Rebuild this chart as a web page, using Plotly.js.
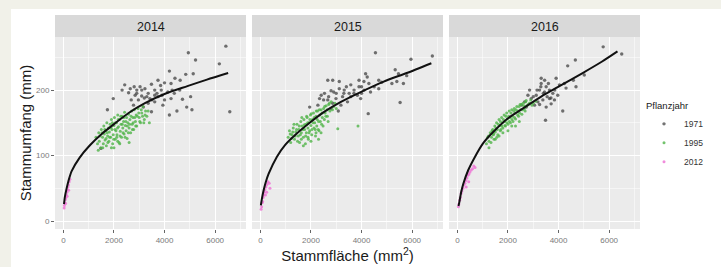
<!DOCTYPE html>
<html>
<head>
<meta charset="utf-8">
<script src="https://cdn.plot.ly/plotly-3.0.1.min.js"></script>
<style>html,body{margin:0;padding:0;background:#fff;}#chart{width:721px;height:267px;}</style>
</head>
<body>
<div id="chart"></div>
<script>
// ---------- DATA ----------
const years = ['2014', '2015', '2016'];
const groups = ['1971', '1995', '2012'];
const xTicks = [0, 2000, 4000, 6000];
const yTicks = [0, 100, 200];

// 2014 [Stammfläche, Stammumfang]
const p2014_1971 = [[6424,267],[4941,257],[5225,246],[6166,240],[4193,229],[4838,224],[5134,225],[4412,218],[4618,215],[3741,215],[3999,211],[4257,210],[3483,209],[3032,205],[3225,202],[2425,208],[2645,202],[2903,200],[3612,200],[3870,200],[4128,197],[4386,195],[3354,195],[3612,192],[3096,191],[2838,192],[2580,196],[5031,190],[4709,186],[4257,187],[3999,185],[3612,182],[3354,180],[2967,185],[3161,174],[2774,177],[1974,187],[3935,177],[4876,174],[5083,170],[4489,168],[4193,162],[6579,167],[3483,167],[1742,170],[1484,111],[3844,207],[3419,187],[3741,190],[2683,185],[2322,200],[3100,200],[3300,190],[3700,195],[3500,185],[2900,195],[3900,192],[4300,200],[2800,205],[3200,188],[4600,200]];
const p2014_1995 = [[1290,128],[1350,118],[1400,135],[1420,122],[1480,112],[1500,140],[1550,128],[1580,118],[1600,145],[1620,133],[1650,124],[1680,138],[1700,115],[1720,150],[1750,130],[1780,142],[1800,122],[1820,136],[1850,148],[1870,128],[1900,155],[1920,140],[1950,118],[1970,132],[2000,146],[2020,158],[2050,125],[2080,138],[2100,150],[2120,132],[2150,162],[2180,144],[2200,120],[2220,155],[2250,137],[2280,148],[2300,128],[2320,160],[2350,142],[2380,152],[2400,133],[2420,166],[2450,146],[2480,138],[2500,158],[2520,126],[2550,150],[2580,163],[2600,142],[2630,155],[2660,135],[2700,168],[2720,148],[2750,158],[2780,140],[2800,170],[2850,152],[2880,162],[2900,145],[2950,172],[3000,158],[3050,150],[3100,165],[3150,175],[3200,155],[3250,168],[3300,160],[3400,150],[1380,108],[2000,112],[2600,120],[1450,130],[1530,135],[1560,112],[1640,140],[1690,126],[1730,135],[1760,120],[1830,128],[1880,143],[1940,150],[1990,125],[2040,140],[2060,150],[2110,128],[2140,142],[2170,155],[2240,130],[2270,160],[2330,148],[2360,135],[2390,158],[2440,128],[2470,152],[2530,145],[2570,135],[2620,148],[2680,160],[2730,140],[2760,150],[2820,158],[2860,145],[2920,160],[2980,165],[3020,152],[3080,170],[3130,160],[3180,150],[3230,162],[3350,168],[2230,118],[1900,112],[2150,122]];
const p2014_2012 = [[30,20],[40,24],[60,28],[80,33],[100,36],[120,40],[140,44],[160,48],[180,52],[200,55],[230,60],[260,64],[90,27],[150,38],[210,47]];
const fit2014 = [[26,26],[60,37],[129,50],[200,61],[323,76],[645,97],[1032,115],[1548,134],[2000,148],[2580,165],[3225,180],[4000,194],[4902,206],[5676,216],[6514,226]];

// 2015
const p2015_1971 = [[4550,257],[5954,247],[6799,252],[5330,231],[5460,225],[5785,222],[4160,225],[4225,220],[3900,215],[4095,213],[4290,210],[4680,215],[4680,202],[5200,210],[5395,213],[5655,210],[2665,215],[2860,215],[3120,213],[2795,199],[3120,202],[3315,200],[3510,195],[3705,200],[3835,192],[3575,190],[3250,190],[2990,187],[2665,185],[2405,192],[2535,195],[2340,187],[2860,180],[3185,177],[3081,168],[2795,172],[1950,174],[2275,177],[5525,181],[4264,164],[3445,182],[3965,187],[4355,197],[2900,197],[3575,208],[4000,205],[4100,200],[3300,195],[3700,195],[3900,205],[3400,205],[2500,185],[2700,190],[4000,195],[3000,195],[4500,205],[4800,212]];
const p2015_1995 = [[1100,128],[1150,138],[1200,120],[1250,132],[1300,142],[1350,125],[1400,136],[1450,148],[1500,130],[1520,140],[1550,120],[1600,152],[1620,135],[1650,145],[1700,128],[1720,155],[1750,140],[1780,118],[1800,148],[1820,135],[1850,158],[1880,142],[1900,125],[1920,150],[1950,138],[1980,162],[2000,146],[2030,132],[2060,155],[2100,165],[2120,142],[2150,150],[2180,130],[2200,160],[2230,145],[2260,168],[2300,152],[2320,138],[2350,162],[2400,170],[2420,148],[2450,158],[2500,172],[2530,155],[2560,165],[2600,176],[2650,160],[2700,178],[2750,168],[2800,182],[2900,175],[3000,172],[3060,141],[3860,145],[1700,115],[2000,122],[2300,125],[2400,135],[1180,133],[1230,126],[1280,136],[1330,148],[1380,130],[1430,140],[1470,122],[1540,145],[1580,132],[1640,158],[1680,140],[1740,147],[1790,130],[1830,160],[1870,150],[1930,135],[1960,155],[2010,164],[2040,140],[2080,150],[2130,158],[2170,140],[2210,168],[2250,155],[2290,140],[2330,170],[2370,152],[2440,165],[2480,145],[2540,175],[2590,160],[2640,170],[2680,152],[2730,180],[2850,170],[2950,180],[1620,125],[1880,128],[2200,135]];
const p2015_2012 = [[30,18],[50,22],[70,28],[90,30],[110,36],[130,40],[150,44],[180,48],[220,52],[260,56],[300,60],[350,58],[380,50],[200,40],[250,44]];
const fit2015 = [[20,24],[60,34],[130,47],[210,59],[325,72],[650,98],[975,116],[1365,131],[1950,150],[2535,167],[3185,182],[3965,197],[4875,213],[5785,226],[6760,241]];

// 2016
const p2016_1971 = [[5764,266],[6498,255],[4664,246],[4362,237],[5017,223],[4585,215],[4690,205],[4231,210],[3904,218],[4035,208],[3314,218],[3314,210],[3511,205],[3642,200],[3773,195],[3445,197],[3249,200],[3118,192],[3642,187],[3838,185],[3380,185],[3183,182],[2921,187],[2790,192],[2659,182],[3052,177],[2725,174],[2528,177],[3485,154],[4166,168],[3511,174],[3707,179],[3969,192],[2856,200],[4297,203],[3400,195],[3550,190],[3300,205],[3600,210],[3150,200],[3700,188],[3850,200],[3000,190],[3450,215],[3250,178]];
const p2016_1995 = [[1150,118],[1200,128],[1250,122],[1300,135],[1350,128],[1400,140],[1420,132],[1480,145],[1500,136],[1550,150],[1580,140],[1600,132],[1650,155],[1680,146],[1700,138],[1750,158],[1780,150],[1800,142],[1850,162],[1870,152],[1900,145],[1950,165],[1980,156],[2000,148],[2050,168],[2080,158],[2100,150],[2150,170],[2180,160],[2200,152],[2250,172],[2280,165],[2300,156],[2350,175],[2400,168],[2420,160],[2480,178],[2500,170],[2550,163],[2600,180],[2650,172],[2700,182],[2750,176],[2800,178],[2900,185],[3000,180],[1450,125],[1650,130],[2000,138],[2300,145],[1250,112],[1230,130],[1330,120],[1370,138],[1440,133],[1520,142],[1560,128],[1620,148],[1700,152],[1720,140],[1760,145],[1820,155],[1880,146],[1920,160],[1960,150],[2030,160],[2060,152],[2120,165],[2160,155],[2230,168],[2260,158],[2320,170],[2380,162],[2440,175],[2460,165],[2530,178],[2580,170],[2630,176],[2680,168],[2720,184],[2850,180],[2950,177],[3100,183],[1800,135],[2150,145],[2450,152],[1500,125]];
const p2016_2012 = [[40,22],[60,26],[90,32],[120,36],[150,42],[180,46],[220,50],[260,55],[300,58],[340,62],[380,66],[420,70],[460,72],[500,75],[550,78],[600,80],[650,84],[700,82],[350,52],[450,60]];
const fit2016 = [[45,23],[79,29],[150,44],[236,57],[432,78],[694,98],[1022,119],[1415,136],[2004,157],[2594,172],[3314,190],[4035,206],[4952,226],[5738,244],[6330,259]];

// ---------- STYLE / LAYOUT ----------
const points = {
  '2014': [p2014_1971, p2014_1995, p2014_2012],
  '2015': [p2015_1971, p2015_1995, p2015_2012],
  '2016': [p2016_1971, p2016_1995, p2016_2012]
};
const fits = {'2014': fit2014, '2015': fit2015, '2016': fit2016};
const groupColors = ['rgba(55,55,55,0.7)', 'rgba(80,180,72,0.8)', 'rgba(238,120,214,0.85)'];
const groupSizes = [3.4, 3, 3];

const W = 721, H = 267, ML = 55, MR = 81, MT = 37, MB = 38;
const PW = W - ML - MR, PH = H - MT - MB;
const fx = p => (p - ML) / PW;
const fy = p => (H - MB - p) / PH;
const panelPx = [[55, 246], [252, 443], [449, 640]];
const FONT = 'Liberation Sans, Arial, sans-serif';

const traces = [];
years.forEach((yr, i) => {
  const xa = i === 0 ? 'x' : 'x' + (i + 1);
  points[yr].forEach((pts, g) => {
    traces.push({
      type: 'scatter', mode: 'markers', xaxis: xa, yaxis: 'y',
      x: pts.map(p => p[0]), y: pts.map(p => p[1]),
      name: groups[g], legendgroup: groups[g], showlegend: i === 0,
      marker: {color: groupColors[g], size: groupSizes[g], line: {width: 0}}
    });
  });
});
years.forEach((yr, i) => {
  const xa = i === 0 ? 'x' : 'x' + (i + 1);
  traces.push({
    type: 'scatter', mode: 'lines', xaxis: xa, yaxis: 'y',
    x: fits[yr].map(p => p[0]), y: fits[yr].map(p => p[1]),
    showlegend: false, hoverinfo: 'skip',
    line: {color: '#111', width: 2, shape: 'spline', smoothing: 0.7}
  });
});

function xAxis(i) {
  const a = {
    domain: [fx(panelPx[i][0]), fx(panelPx[i][1])],
    anchor: 'y', range: [-330, 7220],
    tickmode: 'array', tickvals: xTicks,
    ticks: 'outside', ticklen: 3, tickwidth: 1, tickcolor: '#666',
    tickfont: {family: FONT, size: 8, color: '#7a7a7a'},
    showgrid: true, gridcolor: '#ffffff', gridwidth: 1,
    minor: {tickmode: 'array', tickvals: [1000, 3000, 5000, 7000], showgrid: true, gridcolor: '#ffffff', gridwidth: 0.5, ticks: ''},
    zeroline: false, showline: false, fixedrange: true
  };
  if (i === 1) {
    a.title = {text: 'Stammfläche (mm<sup>2</sup>)', font: {family: FONT, size: 15, color: '#1a1a1a'}, standoff: 2};
  }
  return a;
}

const shapes = [];
const annotations = [];
shapes.push({type: 'rect', xref: 'paper', yref: 'paper', x0: fx(0), x1: fx(W), y0: fy(9), y1: fy(0), fillcolor: '#f1f1e9', line: {width: 0}, layer: 'below'});
shapes.push({type: 'rect', xref: 'paper', yref: 'paper', x0: fx(0), x1: fx(11), y0: fy(H), y1: fy(0), fillcolor: '#f1f1e9', line: {width: 0}, layer: 'below'});
years.forEach((yr, i) => {
  shapes.push({type: 'rect', xref: 'paper', yref: 'paper', x0: fx(panelPx[i][0]), x1: fx(panelPx[i][1]), y0: 1, y1: fy(15), fillcolor: '#d9d9d9', line: {width: 0}, layer: 'below'});
  annotations.push({xref: 'paper', yref: 'paper', x: (fx(panelPx[i][0]) + fx(panelPx[i][1])) / 2, y: fy(26.5), text: yr, showarrow: false, xanchor: 'center', yanchor: 'middle', font: {family: FONT, size: 12.5, color: '#1a1a1a'}});
});

const layout = {
  width: W, height: H,
  margin: {l: ML, r: MR, t: MT, b: MB, pad: 0},
  paper_bgcolor: '#ffffff', plot_bgcolor: '#ebebeb',
  font: {family: FONT, color: '#1a1a1a'},
  xaxis: xAxis(0), xaxis2: xAxis(1), xaxis3: xAxis(2),
  yaxis: {
    domain: [0, 1], anchor: 'x', range: [-12, 281],
    tickmode: 'array', tickvals: yTicks,
    ticks: 'outside', ticklen: 3, tickwidth: 1, tickcolor: '#666',
    tickfont: {family: FONT, size: 8, color: '#7a7a7a'},
    showgrid: true, gridcolor: '#ffffff', gridwidth: 1,
    minor: {tickmode: 'array', tickvals: [50, 150, 250], showgrid: true, gridcolor: '#ffffff', gridwidth: 0.5, ticks: ''},
    zeroline: false, showline: false, fixedrange: true,
    title: {text: 'Stammumfang (mm)', font: {family: FONT, size: 15, color: '#1a1a1a'}, standoff: 0}
  },
  showlegend: true,
  legend: {
    x: fx(644), xanchor: 'left', y: fy(97), yanchor: 'top',
    bgcolor: 'rgba(0,0,0,0)', borderwidth: 0,
    title: {text: 'Pflanzjahr', font: {family: FONT, size: 9.5, color: '#1a1a1a'}},
    font: {family: FONT, size: 8.5, color: '#333'},
    tracegroupgap: 0, itemwidth: 30
  },
  shapes: shapes, annotations: annotations,
  hovermode: false
};

Plotly.newPlot('chart', traces, layout, {staticPlot: true, displayModeBar: false});
</script>
</body>
</html>
